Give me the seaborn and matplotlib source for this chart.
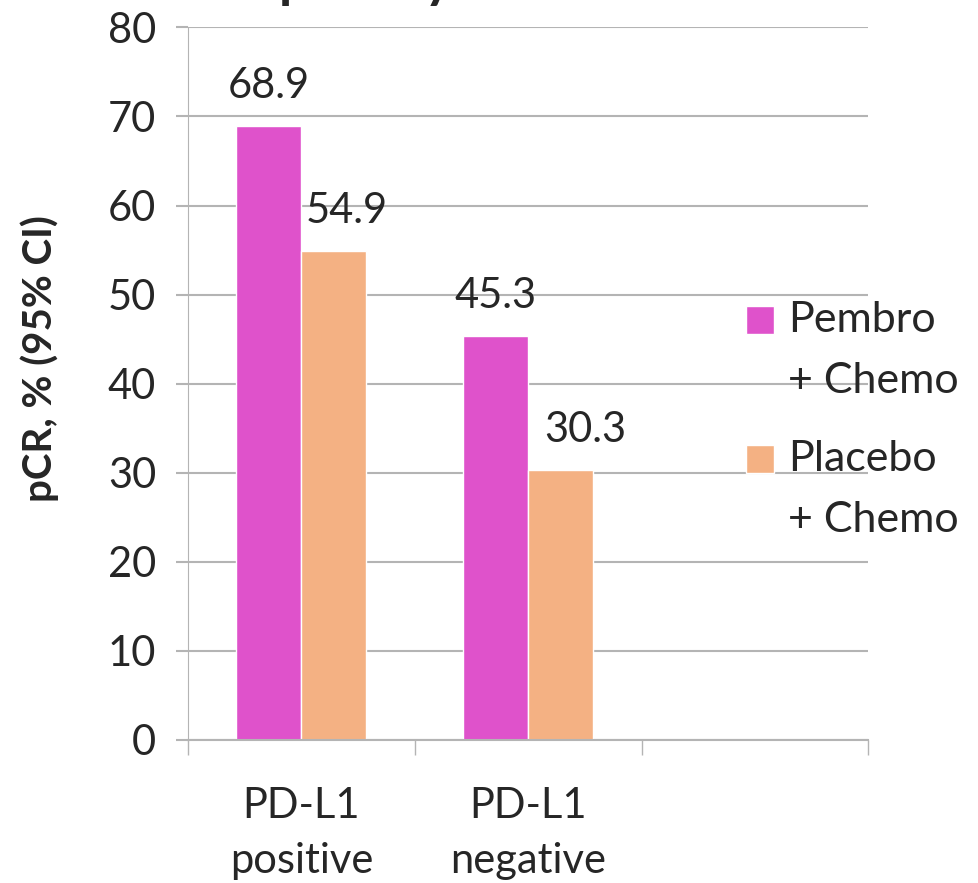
import pandas as pd
import seaborn as sns
import matplotlib.pyplot as plt
from matplotlib.ticker import MultipleLocator, FixedLocator
from matplotlib.patches import Rectangle
from matplotlib.legend_handler import HandlerPatch

# pCR by PD-L1 status
groups = ["PD-L1\npositive", "PD-L1\nnegative"]
arms = ["Pembro\n+ Chemo", "Placebo\n+ Chemo"]
pembro = [68.9, 45.3]
placebo = [54.9, 30.3]
colors = ["#DF52CB", "#F4B183"]

df = pd.DataFrame({
    "group": groups * 2,
    "arm": [arms[0]] * 2 + [arms[1]] * 2,
    "pcr": pembro + placebo,
})

sns.set_theme(style="white")
plt.rcParams["font.family"] = ["Lato", "DejaVu Sans"]
grid_col = "#b4b4b4"

fig = plt.figure(figsize=(9.79, 8.83), dpi=100)
ax = fig.add_axes([0.192, 0.162, 0.695, 0.807])

sns.barplot(data=df, x="group", y="pcr", hue="arm", order=groups, hue_order=arms,
            palette=colors, width=0.573, saturation=1, ax=ax)

ax.set_xlim(-0.5, 2.5)
ax.set_ylim(0, 80)
ax.yaxis.set_major_locator(MultipleLocator(10))
ax.grid(axis="y", color=grid_col, linewidth=1.5)
ax.set_axisbelow(True)

# tick labels at group centres, tick marks at the category boundaries
ax.set_xticks([0, 1, 2])
ax.set_xticklabels(groups + [""], linespacing=1.55)
ax.xaxis.set_minor_locator(FixedLocator([-0.5, 0.5, 1.5, 2.5]))
ax.tick_params(axis="x", which="major", length=0, pad=34, labelsize=30)
ax.tick_params(axis="x", which="minor", length=11, width=1, color=grid_col, bottom=True)
ax.tick_params(axis="y", length=9, width=1.5, color=grid_col, pad=14, labelsize=30, left=True)

for side in ["top", "right"]:
    ax.spines[side].set_visible(False)
ax.spines["left"].set_color(grid_col)
ax.spines["left"].set_linewidth(0.8)
ax.spines["bottom"].set_color(grid_col)
ax.spines["bottom"].set_linewidth(1.5)

ax.set_xlabel("")
ax.set_ylabel("pCR, % (95% CI)", fontsize=29, fontweight="bold")
ax.yaxis.set_label_coords(-0.19, 0.535)

# value labels (placebo labels sit a little to the right, as in the slide)
shifts = [[0, 0], [9, 18]]
for k, cont in enumerate(ax.containers):
    for j, bar in enumerate(cont):
        h = bar.get_height()
        ax.annotate(f"{h:.1f}", (bar.get_x() + bar.get_width() / 2, h),
                    xytext=(shifts[k][j], 29), textcoords="offset points",
                    ha="center", va="center", fontsize=30)


# legend square sits next to the first line of each two-line label
def top_square(legend, orig_handle, xdescent, ydescent, width, height, fontsize):
    sq = 0.65 * fontsize
    return Rectangle((-xdescent, -ydescent + height - sq + 0.15 * fontsize), sq, sq)


handles, labels = ax.get_legend_handles_labels()
ax.get_legend().remove()
leg = ax.legend(handles, labels, loc="upper left", bbox_to_anchor=(0.795, 0.64),
                frameon=False, fontsize=31, handlelength=0.65, handleheight=2.5,
                handletextpad=0.33, labelspacing=0.92, borderaxespad=0,
                handler_map={Rectangle: HandlerPatch(patch_func=top_square)})
for t in leg.get_texts():
    t.set_linespacing(1.75)

# title is cut off by the top edge of the slide, only descenders show
fig.text(0.285, 1.003, "pCR by PD-L1 Status", fontsize=39, fontweight="bold",
         ha="left", va="baseline")

fig.savefig("out.png", dpi=100)
